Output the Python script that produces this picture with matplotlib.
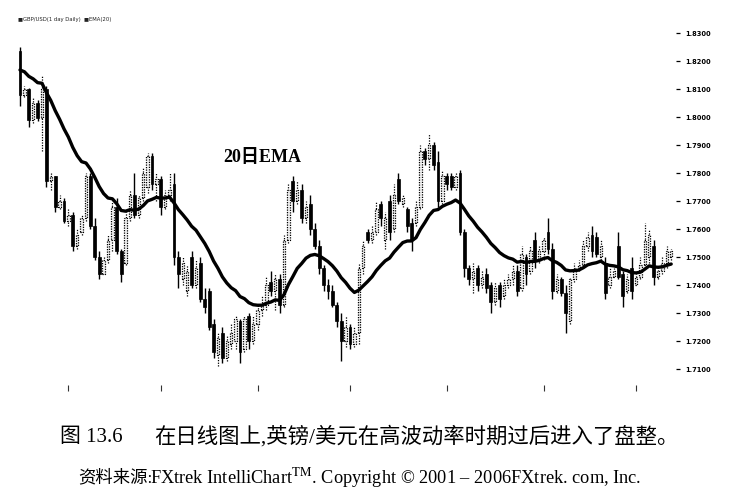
import matplotlib
matplotlib.use("Agg")
import matplotlib.pyplot as plt
from matplotlib.patches import Rectangle

plt.rcParams['mathtext.fontset'] = 'stix'

# GBP/USD daily candles, prices in pips above 1.0000 (8235 -> 1.8235)
opens = [8235, 8080, 8100, 7990, 8050, 7995, 8100, 7770, 7790, 7680,
         7700, 7630, 7650, 7540, 7590, 7640, 7790, 7610, 7500, 7440,
         7490, 7560, 7680, 7520, 7480, 7640, 7720, 7650, 7710, 7750,
         7860, 7760, 7780, 7680, 7720, 7760, 7500, 7420, 7380, 7500,
         7400, 7480, 7350, 7380, 7260, 7150, 7230, 7140, 7190, 7200,
         7270, 7170, 7290, 7200, 7260, 7310, 7330, 7410, 7380, 7420,
         7330, 7560, 7770, 7700, 7740, 7640, 7690, 7600, 7540, 7460,
         7400, 7380, 7330, 7270, 7200, 7250, 7190, 7230, 7460, 7590,
         7560, 7590, 7690, 7560, 7700, 7600, 7780, 7690, 7670, 7620,
         7620, 7680, 7880, 7850, 7900, 7840, 7700, 7790, 7790, 7750,
         7800, 7590, 7460, 7420, 7460, 7400, 7440, 7400, 7340, 7400,
         7360, 7400, 7420, 7450, 7390, 7500, 7450, 7560, 7490, 7520,
         7590, 7530, 7380, 7420, 7370, 7270, 7420, 7460, 7470, 7540,
         7580, 7570, 7500, 7480, 7400, 7430, 7540, 7440, 7380, 7460,
         7400, 7430, 7470, 7500, 7540, 7430, 7450, 7480, 7500]
closes = [8080, 8100, 7990, 8050, 7995, 8100, 7770, 7790, 7680, 7700,
          7630, 7650, 7540, 7580, 7640, 7790, 7610, 7500, 7440, 7490,
          7560, 7680, 7520, 7440, 7640, 7720, 7650, 7710, 7800, 7860,
          7760, 7780, 7680, 7720, 7740, 7500, 7440, 7480, 7450, 7400,
          7460, 7350, 7320, 7250, 7160, 7210, 7140, 7200, 7230, 7280,
          7160, 7280, 7200, 7260, 7310, 7330, 7400, 7380, 7420, 7330,
          7560, 7740, 7700, 7740, 7640, 7680, 7600, 7540, 7460, 7400,
          7380, 7330, 7270, 7200, 7250, 7190, 7230, 7460, 7540, 7560,
          7590, 7670, 7640, 7640, 7590, 7720, 7700, 7710, 7610, 7560,
          7680, 7880, 7850, 7900, 7830, 7700, 7790, 7760, 7750, 7790,
          7590, 7460, 7420, 7450, 7400, 7430, 7390, 7340, 7390, 7350,
          7400, 7420, 7450, 7380, 7510, 7440, 7520, 7490, 7520, 7560,
          7530, 7380, 7420, 7370, 7300, 7420, 7460, 7470, 7540, 7570,
          7520, 7510, 7540, 7370, 7430, 7450, 7430, 7360, 7420, 7380,
          7430, 7470, 7560, 7580, 7430, 7450, 7480, 7520, 7520]
highs = [8250, 8110, 8105, 8070, 8060, 8150, 8110, 7800, 7790, 7720,
         7710, 7670, 7660, 7600, 7650, 7800, 7800, 7640, 7520, 7500,
         7580, 7700, 7710, 7530, 7660, 7740, 7800, 7720, 7820, 7870,
         7870, 7800, 7790, 7740, 7800, 7800, 7520, 7500, 7470, 7520,
         7490, 7500, 7390, 7390, 7280, 7230, 7250, 7220, 7260, 7290,
         7280, 7290, 7300, 7290, 7330, 7360, 7430, 7450, 7440, 7440,
         7580, 7760, 7790, 7770, 7760, 7700, 7720, 7620, 7560, 7470,
         7420, 7400, 7340, 7300, 7290, 7260, 7250, 7480, 7560, 7600,
         7610, 7700, 7700, 7660, 7720, 7760, 7800, 7720, 7680, 7640,
         7700, 7900, 7890, 7940, 7910, 7880, 7810, 7800, 7800, 7800,
         7810, 7600, 7470, 7480, 7470, 7450, 7460, 7410, 7410, 7410,
         7420, 7440, 7470, 7470, 7540, 7510, 7540, 7590, 7540, 7570,
         7640, 7550, 7440, 7430, 7400, 7430, 7480, 7490, 7560, 7590,
         7610, 7590, 7560, 7500, 7460, 7460, 7590, 7450, 7440, 7500,
         7440, 7500, 7620, 7600, 7560, 7460, 7500, 7540, 7530]
lows = [8040, 8070, 7965, 7980, 7985, 7880, 7750, 7740, 7660, 7670,
        7620, 7610, 7520, 7530, 7580, 7630, 7600, 7490, 7420, 7440,
        7480, 7520, 7510, 7410, 7470, 7630, 7640, 7640, 7700, 7730,
        7740, 7700, 7650, 7670, 7700, 7470, 7390, 7400, 7360, 7390,
        7390, 7340, 7300, 7240, 7140, 7110, 7120, 7130, 7170, 7170,
        7120, 7160, 7170, 7190, 7240, 7290, 7310, 7360, 7310, 7300,
        7320, 7550, 7660, 7690, 7620, 7620, 7580, 7530, 7440, 7380,
        7350, 7320, 7250, 7130, 7180, 7170, 7180, 7190, 7440, 7550,
        7550, 7580, 7610, 7530, 7560, 7590, 7690, 7680, 7590, 7520,
        7610, 7670, 7830, 7810, 7810, 7680, 7690, 7740, 7740, 7740,
        7580, 7430, 7400, 7370, 7380, 7390, 7370, 7300, 7330, 7320,
        7350, 7390, 7400, 7360, 7380, 7400, 7440, 7460, 7480, 7490,
        7510, 7350, 7370, 7360, 7230, 7260, 7410, 7450, 7460, 7520,
        7500, 7500, 7490, 7350, 7390, 7430, 7420, 7320, 7370, 7350,
        7400, 7420, 7460, 7480, 7400, 7420, 7440, 7460, 7490]

ema_start = 8168          # EMA(20) value read at the first candle
ema_period = 20
month_ticks = [11, 32, 54, 75, 97, 119, 140]
price_ticks = [1.71, 1.72, 1.73, 1.74, 1.75, 1.76, 1.77, 1.78, 1.79, 1.80, 1.81, 1.82, 1.83]

to_price = lambda v: 1.0 + v / 10000.0

# 20-day exponential moving average of the closes
alpha = 2.0 / (ema_period + 1)
ema = [to_price(ema_start)]
for c in closes[1:]:
    ema.append(ema[-1] + alpha * (to_price(c) - ema[-1]))

W, H = 732, 499
fig = plt.figure(figsize=(W / 100, H / 100), dpi=100)
fig.patch.set_facecolor('white')

# axes placed in pixel terms: candle i sits at x = 20 + 4.4 i
left_px, right_px, top_px, bot_px = 0, 676, 25, 385
ax = fig.add_axes([left_px / W, 1 - bot_px / H, (right_px - left_px) / W, (bot_px - top_px) / H])
ax.set_xlim((left_px - 20) / 4.4, (right_px - 20) / 4.4)
ax.set_ylim(1.83 - (bot_px - 33) / 2800, 1.83 + (33 - top_px) / 2800)

for i in range(len(closes)):
    o, c, h, l = map(to_price, (opens[i], closes[i], highs[i], lows[i]))
    if c < o:
        ax.plot([i, i], [l, h], color='black', lw=1.0, solid_capstyle='butt', zorder=2)
        ax.add_patch(Rectangle((i - 0.34, c), 0.68, o - c,
                               facecolor='black', edgecolor='black', lw=0.5, zorder=3))
    else:
        ax.plot([i, i], [l, h], color='black', lw=0.9, ls=(0, (1, 1.1)), zorder=2)
        ax.add_patch(Rectangle((i - 0.28, o), 0.56, max(c - o, 0.0002),
                               facecolor='#f2f2f2', edgecolor='black', lw=0.9,
                               ls=(0, (1, 1.0)), zorder=3))

ax.plot(range(len(ema)), ema, color='black', lw=2.4, solid_capstyle='round', zorder=4)

for s in ax.spines.values():
    s.set_visible(False)
ax.yaxis.tick_right()
ax.set_yticks(price_ticks)
ax.set_yticklabels(['%.4f' % p for p in price_ticks], fontsize=4.8, fontweight='bold')
ax.tick_params(axis='y', length=3, width=0.9, pad=3.5, color='black')
ax.set_xticks(month_ticks)
ax.set_xticklabels([])
ax.tick_params(axis='x', length=4, width=0.8, pad=1, color='#333333')

fig.text(262 / W, 1 - 158 / H, '20日EMA', fontsize=13, ha='center', va='center',
         fontweight='bold', family=['Liberation Serif', 'Noto Sans CJK SC'])

fig.text(18 / W, 1 - 20 / H, '■GBP/USD(1 day Daily)  ■EMA(20)', fontsize=3.8,
         color='#222222', va='center', ha='left')

cap_font = ['Liberation Serif', 'Noto Sans CJK SC']
fig.text(60 / W, 1 - 437 / H, '图 13.6', fontsize=15, va='center', ha='left', family=cap_font)
fig.text(154 / W, 1 - 437 / H, '在日线图上,英镑/美元在高波动率时期过后进入了盘整。',
         fontsize=15.4, va='center', ha='left', family=cap_font)
fig.text(78 / W, 1 - 478 / H, '资料来源:', fontsize=12.5, va='center', ha='left', family=cap_font)
fig.text(150 / W, 1 - 478 / H,
         'FXtrek IntelliChart$^{\\rm TM}$. Copyright © 2001 – 2006FXtrek. com, Inc.',
         fontsize=13.2, va='center', ha='left', family=cap_font)

fig.savefig('out.png', dpi=100, facecolor='white')
